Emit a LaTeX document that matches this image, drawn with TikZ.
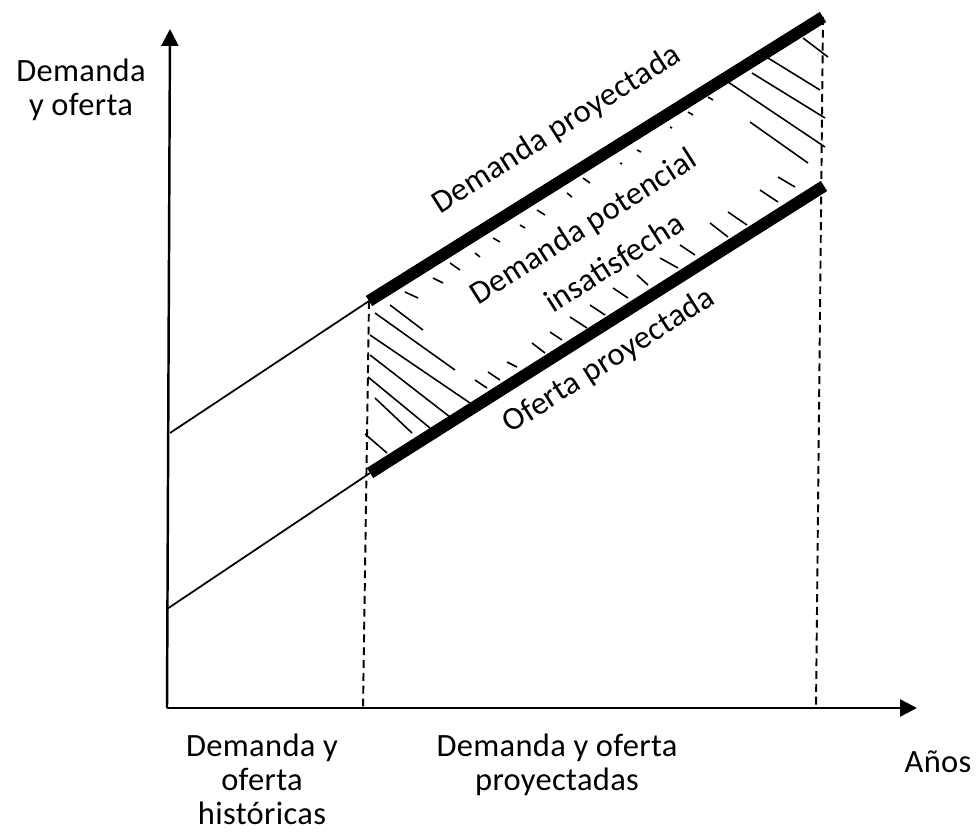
\documentclass[tikz,border=0pt]{standalone}
\usepackage{fontspec}
\setmainfont{Carlito}[LetterSpace=1]
\usetikzlibrary{arrows.meta,positioning}

\tikzset{
  axis/.style={line width=1.4pt,-{Triangle[length=9.6pt,width=9.6pt]}},
  hist/.style={line width=1pt},
  proj/.style={line width=6.8pt},
  guide/.style={line width=1.1pt,dash pattern=on 4.5pt off 2.8pt},
  hatch/.style={line width=0.9pt},
  lbl/.style={font=\fontsize{18.5}{19.2}\selectfont,inner sep=0pt,align=center}
}

\begin{document}
\begin{tikzpicture}
  [x=0.02cm,y=-0.02cm]
  \useasboundingbox (0,0) rectangle (978,835);

  % ejes
  \coordinate (o) at (167,708);
  \coordinate (ytop) at (170,29);
  \coordinate (xtop) at (917,708);
  % historico y proyectado
  \coordinate (dh) at (170,433);
  \coordinate (oh) at (167,609);
  \coordinate (dp1) at (369,301);
  \coordinate (dp2) at (823,17);
  \coordinate (op1) at (370,473);
  \coordinate (op2) at (824,186);
  \coordinate (v1) at (363,708);
  \coordinate (v2) at (816,708);

  \draw[axis] (o) -- (ytop);
  \draw[axis] (o) -- (xtop);

  \draw[guide] (dp1) -- (v1);
  \draw[guide] (dp2) -- (v2);

  \draw[hist] (dh) -- (dp1);
  \draw[hist] (oh) -- (op1);

  % rayado
  \foreach \a/\b/\c/\d in {390/305/423/330, 375/313/455/370, 370/335/470/403,
      370/355/450/417, 368/377/430/428, 375/398/412/433, 365/434/387/453,
      803/38/828/57, 768/58/820/90, 752/73/825/118, 728/82/825/147, 750/122/808/163,
      405/292/418/298, 433/278/443/283, 450/263/460/270, 475/253/480/257,
      493/238/500/242, 520/225/525/228, 537/210/545/215, 567/193/572/197,
      583/178/590/183, 620/163/622/164, 637/150/641/152, 670/127/672/128,
      688/112/693/115, 708/97/713/100,
      475/380/487/388, 488/372/500/380, 507/362/517/367, 532/343/545/353,
      550/332/562/340, 570/317/587/328, 590/305/605/315, 613/288/628/298,
      637/275/648/285, 660/258/678/268, 680/245/695/255, 710/223/728/237,
      728/212/747/225, 760/190/778/202, 778/177/795/187}
    \draw[hatch] (\a,\b) -- (\c,\d);

  \draw[proj] (dp1) -- (dp2);
  \draw[proj] (op1) -- (op2);

  % textos
  \node[lbl,anchor=north] (ylbl) at (81,59) {Demanda\\y oferta};
  \node[lbl,anchor=north] (hlbl) at (262,734) {Demanda y\\oferta\\históricas};
  \node[lbl,anchor=north] (plbl) at (557,734) {Demanda y oferta\\proyectadas};
  \node[lbl,anchor=base] (xlbl) at (938,772) {Años};
  \node[lbl,rotate=32.5] (dpl) at (557,130) {Demanda proyectada};
  \node[lbl,rotate=32.5] (dpi1) at (584,228) {Demanda potencial};
  \node[lbl,rotate=32.5] (dpi2) at (614,262) {insatisfecha};
  \node[lbl,rotate=32.5] (opl) at (609,361) {Oferta proyectada};

\end{tikzpicture}
\end{document}
